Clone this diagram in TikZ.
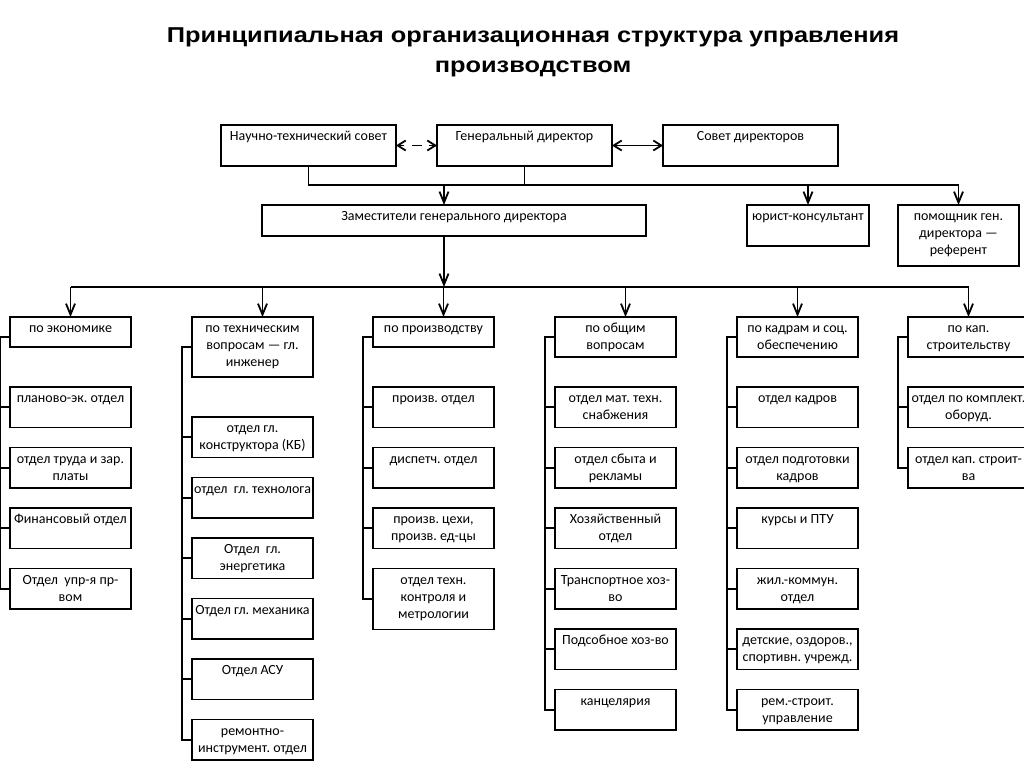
\documentclass[tikz,border=0pt]{standalone}
\usepackage{fontspec}
\setmainfont{Carlito}
\newfontfamily\titlefont[FakeStretch=1.18]{Liberation Sans}
\usetikzlibrary{arrows.meta, positioning}
\tikzset{
    cell/.style 2 args={draw=black, line width=1.8pt, inner sep=0pt, outer sep=0pt, text width=#1, align=flush center,
        text height=15.5pt, text depth=#2, font=\fontsize{14}{17}\selectfont\frenchspacing},
    topnode/.style={cell={175pt}{25.5pt}},
    deptnode/.style={cell={121pt}{#1}},
    deptnode/.default=25pt,
    myline/.style={line width=1.8pt},
    myarrow/.style={-{Straight Barb[length=11pt,width=9pt]}, line width=1.8pt},
    mytip/.style={-{Straight Barb[length=8pt,width=10pt]}, line width=1.8pt},
    myboth/.style={{Straight Barb[length=8pt,width=10pt]}-{Straight Barb[length=8pt,width=10pt]}, line width=1.8pt},
    mytitle/.style={font=\titlefont\bfseries\fontsize{21.5}{30}\selectfont, align=center, inner sep=0pt}
}

\begin{document}
\begin{tikzpicture}[x=1pt, y=-1pt]

        \useasboundingbox (0,0) rectangle (1024,768);
        \clip (0,0) rectangle (1024,768);
        \fill[white] (0,0) rectangle (1024,768);

        % ------------------
        % title
        % ------------------

        \node[mytitle, anchor=north] (title) at (533,28) {Принципиальная организационная структура управления\\производством};

        % ------------------
        % top level
        % ------------------

        \node[topnode, anchor=north west] (nts) at (221,125) {Научно-технический совет};
        \node[topnode, right=41pt of nts] (gd) {Генеральный директор};
        \node[topnode, right=51pt of gd] (sd) {Совет директоров};

        \node[cell={384pt}{15.5pt}, anchor=north west] (zam) at (262,205) {Заместители генерального директора};
        \node[cell={122pt}{25.5pt}, anchor=north west] (yur) at (747,205) {юрист-консультант};
        \node[cell={121pt}{45.5pt}, anchor=north west] (pom) at (898,205) {помощник ген.\\директора —\\референт};

        % ------------------
        % columns
        % ------------------

        \node[deptnode=14.5pt, anchor=north west] (ec) at (10,317) {по экономике};
        \node[deptnode, below=40pt of ec] (ec1) {планово-эк. отдел};
        \node[deptnode, below=20pt of ec1] (ec2) {отдел труда и зар.\\платы};
        \node[deptnode, below=20pt of ec2] (ec3) {Финансовый отдел};
        \node[deptnode, below=20pt of ec3] (ec4) {Отдел~~упр-я пр-\\вом};

        \node[deptnode=44.5pt, anchor=north west] (teh) at (192,317) {по техническим\\вопросам — гл.\\инженер};
        \node[deptnode, below=40pt of teh] (teh1) {отдел гл.\\конструктора (КБ)};
        \node[deptnode, below=20pt of teh1] (teh2) {\mbox{отдел~~гл. технолога}};
        \node[deptnode, below=20pt of teh2] (teh3) {Отдел~~гл.\\энергетика};
        \node[deptnode, below=20pt of teh3] (teh4) {Отдел гл. механика};
        \node[deptnode, below=20pt of teh4] (teh5) {Отдел АСУ};
        \node[deptnode, below=20pt of teh5] (teh6) {ремонтно-\\инструмент. отдел};

        \node[deptnode=14.5pt, anchor=north west] (pr) at (373,317) {по производству};
        \node[deptnode, below=40pt of pr] (pr1) {произв. отдел};
        \node[deptnode, below=20pt of pr1] (pr2) {диспетч. отдел};
        \node[deptnode, below=20pt of pr2] (pr3) {произв. цехи,\\произв. ед-цы};
        \node[deptnode=45.5pt, below=20pt of pr3] (pr4) {отдел техн.\\контроля и\\метрологии};

        \node[deptnode=24.5pt, anchor=north west] (ob) at (555,317) {по общим\\вопросам};
        \node[deptnode, below=30pt of ob] (ob1) {отдел мат. техн.\\снабжения};
        \node[deptnode, below=20pt of ob1] (ob2) {отдел сбыта и\\рекламы};
        \node[deptnode, below=20pt of ob2] (ob3) {Хозяйственный\\отдел};
        \node[deptnode, below=20pt of ob3] (ob4) {Транспортное хоз-\\во};
        \node[deptnode, below=20pt of ob4] (ob5) {Подсобное хоз-во};
        \node[deptnode, below=20pt of ob5] (ob6) {канцелярия};

        \node[deptnode=24.5pt, anchor=north west] (kd) at (737,317) {по кадрам и соц.\\обеспечению};
        \node[deptnode, below=30pt of kd] (kd1) {отдел кадров};
        \node[deptnode, below=20pt of kd1] (kd2) {отдел подготовки\\кадров};
        \node[deptnode, below=20pt of kd2] (kd3) {курсы и ПТУ};
        \node[deptnode, below=20pt of kd3] (kd4) {жил.-коммун.\\отдел};
        \node[deptnode, below=20pt of kd4] (kd5) {детские, оздоров.,\\спортивн. учрежд.};
        \node[deptnode, below=20pt of kd5] (kd6) {рем.-строит.\\управление};

        \node[deptnode=24.5pt, anchor=north west] (ks) at (908,317) {по кап.\\строительству};
        \node[deptnode, below=30pt of ks] (ks1) {отдел по комплект.\\оборуд.};
        \node[deptnode, below=20pt of ks1] (ks2) {отдел кап. строит-\\ва};

        % ------------------
        % arrows
        % ------------------

        \coordinate (bus1) at (0,185);
        \coordinate (bus2) at (0,287);

        \draw[myline, dash pattern=on 0pt off 15.5pt on 10pt off 40pt] (nts.east) -- (gd.west);
        \draw[mytip] ([xshift=8pt]nts.east) -- (nts.east);
        \draw[mytip] ([xshift=-8pt]gd.west) -- (gd.west);
        \draw[myboth] (gd.east) -- (sd.west);

        \draw[myarrow] (nts.south) |- (bus1 -| pom.north) -- (pom.north);
        \draw[myline] (gd.south) -- (gd.south |- bus1);
        \draw[myarrow] ([xshift=-10pt]zam.north |- bus1) -- ([xshift=-10pt]zam.north);
        \draw[myarrow] (yur.north |- bus1) -- (yur.north);

        \draw[myarrow] ([xshift=-10pt]zam.south) -- ([xshift=-10pt]zam.south |- bus2);
        \draw[myline] (ec.north |- bus2) -- (ks.north |- bus2);
        \draw[myarrow] (ec.north |- bus2) -- (ec.north);
        \draw[myarrow] ([xshift=10pt]teh.north |- bus2) -- ([xshift=10pt]teh.north);
        \draw[myarrow] ([xshift=10pt]pr.north |- bus2) -- ([xshift=10pt]pr.north);
        \draw[myarrow] ([xshift=10pt]ob.north |- bus2) -- ([xshift=10pt]ob.north);
        \draw[myarrow] (kd.north |- bus2) -- (kd.north);
        \draw[myarrow] (ks.north |- bus2) -- (ks.north);

        \draw[myline] ([yshift=-20pt]ec.north west) -| ([xshift=-10pt]ec4.west) -- (ec4.west)
            (ec1.west) -- ++(-10,0) (ec2.west) -- ++(-10,0) (ec3.west) -- ++(-10,0);
        \draw[myline] (teh.west) -| ([xshift=-10pt]teh6.west) -- (teh6.west)
            (teh1.west) -- ++(-10,0) (teh2.west) -- ++(-10,0) (teh3.west) -- ++(-10,0)
            (teh4.west) -- ++(-10,0) (teh5.west) -- ++(-10,0);
        \draw[myline] ([yshift=-20pt]pr.north west) -| ([xshift=-10pt]pr4.west) -- (pr4.west)
            (pr1.west) -- ++(-10,0) (pr2.west) -- ++(-10,0) (pr3.west) -- ++(-10,0);
        \draw[myline] (ob.west) -| ([xshift=-10pt]ob6.west) -- (ob6.west)
            (ob1.west) -- ++(-10,0) (ob2.west) -- ++(-10,0) (ob3.west) -- ++(-10,0)
            (ob4.west) -- ++(-10,0) (ob5.west) -- ++(-10,0);
        \draw[myline] (kd.west) -| ([xshift=-10pt]kd6.west) -- (kd6.west)
            (kd1.west) -- ++(-10,0) (kd2.west) -- ++(-10,0) (kd3.west) -- ++(-10,0)
            (kd4.west) -- ++(-10,0) (kd5.west) -- ++(-10,0);
        \draw[myline] (ks.west) -| ([xshift=-10pt]ks2.west) -- (ks2.west)
            (ks1.west) -- ++(-10,0);

\end{tikzpicture}
\end{document}
